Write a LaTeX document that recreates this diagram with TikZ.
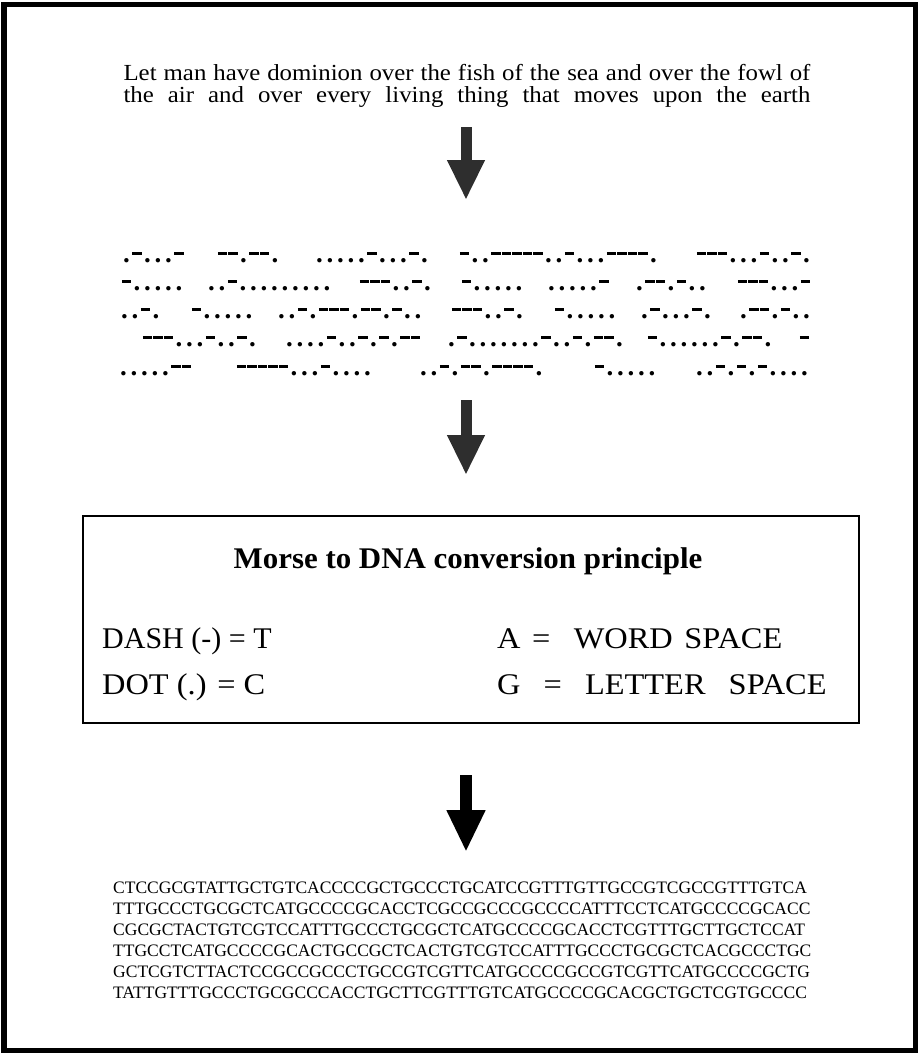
\documentclass[tikz,border=0pt]{standalone}
\usepackage{fontspec}
\setmainfont{Liberation Serif}
\usetikzlibrary{arrows.meta}
\newlength\morsepitch
\setlength\morsepitch{10.5bp}
\newcommand\mdot{\makebox[\morsepitch][c]{\scalebox{1.35}{.}}}
\newcommand\mdash{\makebox[\morsepitch][c]{\rule[7.2bp]{9.4bp}{3bp}}}
\def\morsestop{}
\def\morseloop#1{\ifx#1\morsestop\else\ifx#1.\mdot\else\mdash\fi\expandafter\morseloop\fi}
\newcommand\morseword[1]{\morseloop#1\morsestop}
\newcommand\widen[1]{\scalebox{1.08}[1]{#1}}
\begin{document}
\begin{tikzpicture}[x=1bp,y=-1bp,
  titletext/.style={anchor=base,inner sep=0pt,font=\fontsize{23bp}{26bp}\selectfont},
  mw/.style={anchor=base west,inner sep=0pt,font=\bfseries\fontsize{20bp}{22bp}\selectfont},
  boxhead/.style={anchor=base,inner sep=0pt,font=\bfseries\fontsize{30bp}{34bp}\selectfont},
  boxtext/.style={anchor=base west,inner sep=0pt,font=\fontsize{30bp}{34bp}\selectfont},
  dnatext/.style={anchor=base west,inner sep=0pt,font=\fontsize{17.5bp}{20bp}\selectfont},
  grayarrow/.style={draw=black!82,line width=11bp,-{Triangle[width=35bp,length=40bp]}},
  blackarrow/.style={draw=black,line width=12bp,-{Triangle[width=36bp,length=42bp]}}]
\useasboundingbox (0,0) rectangle (919,1054);
\draw[line width=5bp] (4,4) rectangle (915,1050);
% title
\node[titletext] (title1) at (467,80) {\widen{\makebox[636bp][s]{Let man have dominion over the fish of the sea and over the fowl of}}};
\node[titletext] (title2) at (467,102) {\widen{\makebox[636bp][s]{the air and over every living thing that moves upon the earth}}};
% morse rows
\node[mw] (m11) at (121,262) {\morseword{.-...-}};
\node[mw] (m12) at (217,262) {\morseword{--.--.}};
\node[mw] (m13) at (314,262) {\morseword{.....-...-.}};
\node[mw] (m14) at (459,262) {\morseword{-..-----..-...----.}};
\node[mw] (m15) at (696,262) {\morseword{---...-..-.}};
\node[mw] (m21) at (121,290) {\morseword{-.....}};
\node[mw] (m22) at (206,290) {\morseword{..-.........}};
\node[mw] (m23) at (359,290) {\morseword{---..-.}};
\node[mw] (m24) at (461,290) {\morseword{-.....}};
\node[mw] (m25) at (546,290) {\morseword{.....-}};
\node[mw] (m26) at (634,290) {\morseword{.--.-..}};
\node[mw] (m27) at (737,290) {\morseword{---...-}};
\node[mw] (m31) at (119,318) {\morseword{..-.}};
\node[mw] (m32) at (191,318) {\morseword{-.....}};
\node[mw] (m33) at (276,318) {\morseword{..-.---.--.-..}};
\node[mw] (m34) at (451,318) {\morseword{---..-.}};
\node[mw] (m35) at (554,318) {\morseword{-.....}};
\node[mw] (m36) at (639,318) {\morseword{.-...-.}};
\node[mw] (m37) at (738,318) {\morseword{.--.-..}};
\node[mw] (m41) at (142,346) {\morseword{---...-..-.}};
\node[mw] (m42) at (284,346) {\morseword{....-..-.-.--}};
\node[mw] (m43) at (446,346) {\morseword{.-.......-..-.--.}};
\node[mw] (m44) at (647,346) {\morseword{-......-.--.}};
\node[mw] (m45) at (799,346) {\morseword{-}};
\node[mw] (m51) at (118,375) {\morseword{.....--}};
\node[mw] (m52) at (236,375) {\morseword{-----...-....}};
\node[mw] (m53) at (418,375) {\morseword{..-.--.----.}};
\node[mw] (m54) at (594,375) {\morseword{-.....}};
\node[mw] (m55) at (694,375) {\morseword{..-.-.-....}};
% conversion box
\node[draw,line width=1.5bp,anchor=north west,inner sep=0pt,minimum width=776bp,minimum height=207bp] (box) at (82,515) {};
\node[boxhead] (boxtitle) at (468,568) {\scalebox{1.03}[1]{Morse to DNA conversion principle}};
\node[boxtext] (dash) at (102,648) {DASH (-) = T};
\node[boxtext] (wordsp) at (497,648) {\widen{\makebox[264bp][s]{A = \ WORD SPACE}}};
\node[boxtext] (dot) at (102,694) {\widen{DOT (.) = C}};
\node[boxtext] (lettersp) at (497,694) {\widen{\makebox[305bp][s]{G \ = \ LETTER \ SPACE}}};
% DNA sequence
\node[dnatext] (dna1) at (113,893) {CTCCGCGTATTGCTGTCACCCCGCTGCCCTGCATCCGTTTGTTGCCGTCGCCGTTTGTCA};
\node[dnatext] (dna2) at (113,914) {TTTGCCCTGCGCTCATGCCCCGCACCTCGCCGCCCGCCCCATTTCCTCATGCCCCGCACC};
\node[dnatext] (dna3) at (113,935) {CGCGCTACTGTCGTCCATTTGCCCTGCGCTCATGCCCCGCACCTCGTTTGCTTGCTCCAT};
\node[dnatext] (dna4) at (113,956) {TTGCCTCATGCCCCGCACTGCCGCTCACTGTCGTCCATTTGCCCTGCGCTCACGCCCTGC};
\node[dnatext] (dna5) at (113,977) {GCTCGTCTTACTCCGCCGCCCTGCCGTCGTTCATGCCCCGCCGTCGTTCATGCCCCGCTG};
\node[dnatext] (dna6) at (113,998) {TATTGTTTGCCCTGCGCCCACCTGCTTCGTTTGTCATGCCCCGCACGCTGCTCGTGCCCC};
% arrows
\coordinate (a1s) at (466,127);
\coordinate (a1e) at (466,200);
\coordinate (a2s) at (466,400);
\coordinate (a2e) at (466,475);
\coordinate (a3s) at (466,775);
\coordinate (a3e) at (466,852);
\draw[grayarrow] (a1s) -- (a1e);
\draw[grayarrow] (a2s) -- (a2e);
\draw[blackarrow] (a3s) -- (a3e);
\end{tikzpicture}
\end{document}
